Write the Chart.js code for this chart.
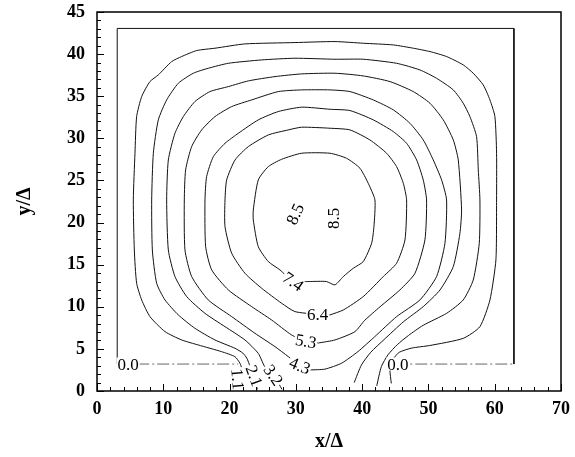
<!DOCTYPE html>
<html>
<head>
<meta charset="utf-8">
<script src="https://cdn.jsdelivr.net/npm/chart.js@4"></script>
<style>
  html, body { margin: 0; background: #fff; }
</style>
</head>
<body>
<canvas id="plot" width="575" height="457"></canvas>
<script>
// contour lines, [x/Δ, y/Δ]
const c00Frame = [[3.05,3.2],[3.05,43.05],[62.9,43.05],[62.9,3.2]];
const c00Left = [[3.05,3.2],[21.3,3.2]];
const c00Right = [[45.0,3.2],[62.9,3.2]];

const c11 = [[21.7,0.3],[21.6,1.5],[21.8,2.7],[21.57,3.29],[20.8,4.08],[18.8,4.67],[15.3,5.46],[12.77,6.06],[10.26,7.05],[7.99,8.83],[6.74,10.81],[5.98,12.79],[5.63,16.75],[5.48,22.68],[5.73,28.23],[5.98,32.58],[6.74,34.96],[7.99,36.74],[9.25,37.53],[11.26,39.11],[12.77,39.71],[15.03,40.42],[17.8,40.7],[22.32,41.21],[29.86,41.37],[35.9,41.49],[40.17,41.29],[44.7,41.09],[47.72,40.7],[50.23,40.3],[52.74,39.71],[55.25,38.72],[56.76,37.73],[58.27,36.34],[59.28,34.56],[60.03,32.58],[60.28,28.23],[60.28,22.68],[60.18,15.56],[59.28,10.81],[57.77,7.64],[55.25,6.25],[50.2,5.4],[47.5,5.1],[45.6,4.6],[44.7,3.8],[44.2,2.5],[44.4,0.9]];

const c21 = [[24.2,0.2],[23.7,1.5],[23.1,2.9],[22.6,3.9],[22.0,4.5],[20.82,5.07],[17.8,6.06],[14.78,7.44],[12.27,9.03],[10.26,10.81],[9.0,12.79],[8.35,16.75],[8.25,22.68],[8.5,28.23],[9.25,32.19],[10.51,34.56],[12.27,36.54],[14.53,37.73],[16.79,38.32],[19.81,38.91],[24.84,39.31],[29.86,39.51],[35.9,39.39],[40.17,39.39],[45.2,38.91],[48.72,38.12],[51.23,37.13],[53.75,35.75],[55.25,34.17],[56.26,32.58],[57.26,30.21],[57.52,26.25],[57.77,22.68],[57.67,17.54],[56.76,13.18],[55.25,10.81],[52.74,9.22],[49.2,7.8],[47.0,6.6],[45.3,5.5],[43.9,4.3],[42.9,2.9],[42.2,0.6]];

const c32 = [[27.9,0.2],[26.8,1.7],[25.3,2.9],[24.33,4.47],[22.32,6.06],[19.31,7.64],[16.29,9.22],[13.53,11.21],[11.76,13.59],[10.76,16.75],[10.51,22.68],[10.76,27.43],[11.76,30.6],[13.02,32.58],[14.78,34.37],[17.04,35.55],[19.81,36.14],[22.83,36.82],[26.85,37.33],[30.87,37.65],[35.9,37.73],[40.17,37.41],[44.19,36.74],[47.72,35.55],[50.23,34.17],[52.24,32.19],[53.75,29.81],[54.5,27.43],[55.0,21.5],[54.75,18.72],[53.75,14.77],[51.74,11.99],[49.22,10.02],[46.2,8.2],[43.3,6.1],[41.3,4.6],[39.9,3.1],[38.8,1.0]];

const c43 = [[32.1,2.5],[34.4,2.6],[36.9,3.3],[39.4,4.7],[41.9,6.45],[45.2,8.83],[48.72,10.81],[51.23,13.59],[52.49,17.54],[52.74,22.68],[51.99,25.06],[50.73,27.43],[49.22,29.81],[47.21,31.79],[44.7,33.38],[41.68,34.56],[38.16,35.55],[35.14,35.75],[30.87,35.75],[27.35,35.55],[23.33,34.56],[20.32,33.77],[17.8,32.58],[15.79,31.0],[14.28,29.02],[13.37,26.25],[13.17,22.68],[13.27,16.75],[14.28,13.59],[16.79,10.81],[20.32,8.83],[23.83,6.85],[26.85,5.27],[28.86,4.08],[30.6,3.0],[32.1,2.5]];

const c53 = [[33.4,5.7],[35.9,6.06],[38.9,7.04],[40.4,8.4],[42.7,10.0],[45.7,12.0],[47.97,13.98],[49.47,17.94],[49.72,22.68],[49.22,25.06],[48.22,27.43],[46.71,29.41],[44.7,30.8],[41.68,32.19],[38.16,33.3],[35.14,33.45],[30.87,33.7],[27.35,33.18],[24.33,32.19],[21.32,30.6],[19.31,29.41],[17.55,27.83],[16.54,25.46],[16.29,22.68],[16.39,17.14],[17.3,14.38],[19.81,12.0],[23.33,10.02],[26.35,8.43],[29.36,6.65],[31.5,5.9],[33.4,5.7]];

const c64 = [[35.14,9.03],[37.16,9.62],[40.17,11.21],[43.19,13.59],[45.2,15.17],[46.46,17.94],[46.71,22.68],[46.21,24.66],[45.2,26.64],[43.69,28.23],[41.17,29.81],[38.16,31.0],[35.14,31.2],[30.87,31.32],[28.86,31.0],[25.84,30.4],[22.83,29.02],[20.82,27.43],[19.56,25.06],[19.31,22.68],[19.31,19.52],[20.32,16.35],[22.32,13.98],[24.84,12.2],[27.85,10.42],[29.86,9.43],[33.3,9.1],[35.14,9.03]];

const c74 = [[32.0,13.0],[34.6,13.0],[35.9,12.6],[37.16,13.59],[38.67,14.58],[40.17,15.37],[41.43,17.54],[41.78,19.52],[41.93,22.68],[40.92,24.66],[39.67,26.45],[37.65,27.63],[35.14,28.23],[30.87,28.23],[27.85,27.51],[25.84,26.64],[24.33,25.06],[23.58,21.5],[23.58,20.31],[24.33,17.14],[25.84,15.37],[27.6,14.38],[29.6,13.0],[32.0,13.0]];

const contours = [c11, c21, c32, c43, c53, c64, c74];

// contour labels
const labelText  = ['0.0', '0.0', '1.1', '2.1', '3.2', '4.3', '5.3', '6.4', '7.4', '8.5', '8.5'];
const labelX     = [4.7,   45.4,  21.2,  23.7,  26.6,  30.6,  31.5,  33.3,  29.6,  29.9,  35.7];
const labelY     = [3.2,   3.2,   1.4,   1.8,   1.9,   3.0,   5.9,   9.1,   13.0,  21.0,  20.5];
const labelAngle = [0,     0,     85,    70,    55,    22,    10,    0,     35,    -65,   -90];

const toPts = arr => arr.map(p => ({x: p[0], y: p[1]}));
const SERIF = '"Liberation Serif", "Times New Roman", serif';

const datasets = contours.map(c => ({
  data: toPts(c), showLine: true, pointRadius: 0, borderColor: '#111',
  borderWidth: 1, tension: 0.2
}));
datasets.push({data: toPts(c00Frame), showLine: true, pointRadius: 0,
  borderColor: '#111', borderWidth: 1, tension: 0});
[c00Left, c00Right].forEach(c => datasets.push({data: toPts(c), showLine: true,
  pointRadius: 0, borderColor: '#666', borderWidth: 1, tension: 0,
  borderDash: [12, 3, 2, 3]}));

const overlay = {
  id: 'overlay',
  afterDatasetsDraw(chart) {
    const {ctx, chartArea: a, scales} = chart;
    const sx = scales.x, sy = scales.y;
    ctx.save();
    ctx.font = '17px ' + SERIF;
    ctx.textAlign = 'center';
    ctx.textBaseline = 'middle';
    labelText.forEach((t, i) => {
      ctx.save();
      ctx.translate(sx.getPixelForValue(labelX[i]), sy.getPixelForValue(labelY[i]));
      ctx.rotate(labelAngle[i] * Math.PI / 180);
      const w = ctx.measureText(t).width;
      ctx.fillStyle = '#fff';
      ctx.fillRect(-w / 2 - 1, -6.5, w + 2, 13);
      ctx.fillStyle = '#000';
      ctx.fillText(t, 0, 1);
      ctx.restore();
    });

    ctx.strokeStyle = '#000';
    ctx.lineWidth = 1.5;
    ctx.strokeRect(a.left, a.top, a.right - a.left, a.bottom - a.top);

    // ticks point inward
    ctx.lineWidth = 1;
    ctx.beginPath();
    for (let v = sx.min; v <= sx.max; v += 2) {
      const p = Math.round(sx.getPixelForValue(v)) + 0.5;
      const len = v % 10 === 0 ? 7 : 4;
      ctx.moveTo(p, a.bottom); ctx.lineTo(p, a.bottom - len);
    }
    for (let v = sy.min; v <= sy.max; v += 1) {
      const p = Math.round(sy.getPixelForValue(v)) + 0.5;
      const len = v % 5 === 0 ? 7 : 4;
      ctx.moveTo(a.left, p); ctx.lineTo(a.left + len, p);
    }
    ctx.stroke();
    ctx.restore();
  }
};

new Chart(document.getElementById('plot'), {
  type: 'scatter',
  data: {datasets},
  options: {
    responsive: false,
    animation: false,
    devicePixelRatio: 1,
    layout: {padding: {top: 12, right: 14, left: 0, bottom: 0}},
    plugins: {legend: {display: false}, tooltip: {enabled: false}},
    scales: {
      x: {
        type: 'linear', min: 0, max: 70,
        afterFit: s => { s.height = 66; s.paddingLeft = 0; s.paddingRight = 0; },
        grid: {display: false, drawTicks: false},
        border: {display: false},
        ticks: {stepSize: 10, padding: 8, color: '#000',
                font: {family: SERIF, size: 18, weight: 'bold'}},
        title: {display: true, text: 'x/Δ', color: '#000', padding: {bottom: 3},
                font: {family: SERIF, size: 20, weight: 'bold'}}
      },
      y: {
        type: 'linear', min: 0, max: 45,
        afterFit: s => { s.width = 97; s.paddingTop = 0; s.paddingBottom = 0; },
        grid: {display: false, drawTicks: false},
        border: {display: false},
        ticks: {stepSize: 5, padding: 12, color: '#000',
                font: {family: SERIF, size: 18, weight: 'bold'}},
        title: {display: true, text: 'y/Δ', color: '#000', padding: {top: 13},
                font: {family: SERIF, size: 20, weight: 'bold'}}
      }
    }
  },
  plugins: [overlay]
});
</script>
</body>
</html>
